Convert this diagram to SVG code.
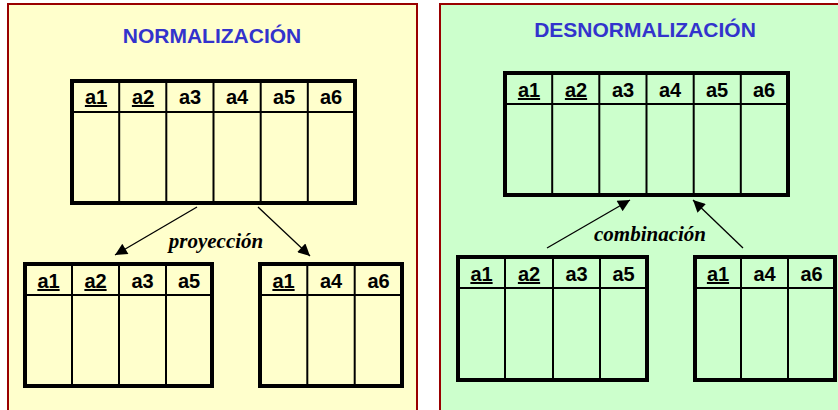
<svg xmlns="http://www.w3.org/2000/svg" width="838" height="410" viewBox="0 0 838 410">
<defs>
<style>
.panel{stroke:#990000;stroke-width:2}
.outer{fill:none;stroke:#000;stroke-width:4}
.inner{stroke:#000;stroke-width:2}
.title{font-family:"Liberation Sans",Arial,sans-serif;font-weight:bold;font-size:21px;fill:#3333CC;text-anchor:middle}
.h{font-family:"Liberation Sans",Arial,sans-serif;font-weight:bold;font-size:20px;fill:#000;text-anchor:middle}
.k{text-decoration:underline}
.lbl{font-family:"Liberation Serif","Times New Roman",serif;font-weight:bold;font-style:italic;font-size:21px;fill:#000;text-anchor:middle}
.arr{stroke:#000;stroke-width:1.3;fill:none;marker-end:url(#ah)}
</style>
<marker id="ah" viewBox="0 0 10 10" refX="10" refY="5" markerWidth="13" markerHeight="12" markerUnits="userSpaceOnUse" orient="auto">
<path d="M0,0 L10,5 L0,10 z" fill="#000"/>
</marker>
</defs>
<rect width="838" height="410" fill="#ffffff"/>
<g id="panel-norm">
<rect class="panel" x="8" y="4" width="409" height="420" fill="#FFFFCC"/>
<text class="title" x="212" y="43">NORMALIZACIÓN</text>
</g>
<g id="panel-desnorm">
<rect class="panel" x="440" y="4" width="410" height="420" fill="#CCFFCC"/>
<text class="title" x="645" y="37">DESNORMALIZACIÓN</text>
</g>

<g id="t-norm-top">
<rect class="outer" x="72" y="81" width="283" height="122"/>
<line class="inner" x1="72" y1="112" x2="355" y2="112"/>
<line class="inner" x1="119.2" y1="81" x2="119.2" y2="203"/>
<line class="inner" x1="166.3" y1="81" x2="166.3" y2="203"/>
<line class="inner" x1="213.5" y1="81" x2="213.5" y2="203"/>
<line class="inner" x1="260.7" y1="81" x2="260.7" y2="203"/>
<line class="inner" x1="307.8" y1="81" x2="307.8" y2="203"/>
<text class="h k" x="96" y="104">a1</text>
<text class="h k" x="143" y="104">a2</text>
<text class="h" x="190" y="104">a3</text>
<text class="h" x="237" y="104">a4</text>
<text class="h" x="284" y="104">a5</text>
<text class="h" x="331" y="104">a6</text>
</g>

<g id="t-norm-left">
<rect class="outer" x="25" y="264" width="187" height="122"/>
<line class="inner" x1="25" y1="295" x2="212" y2="295"/>
<line class="inner" x1="72" y1="264" x2="72" y2="386"/>
<line class="inner" x1="119" y1="264" x2="119" y2="386"/>
<line class="inner" x1="166" y1="264" x2="166" y2="386"/>
<text class="h k" x="48.5" y="288">a1</text>
<text class="h k" x="95.5" y="288">a2</text>
<text class="h" x="142.5" y="288">a3</text>
<text class="h" x="189" y="288">a5</text>
</g>

<g id="t-norm-right">
<rect class="outer" x="260" y="264" width="142" height="122"/>
<line class="inner" x1="260" y1="295" x2="402" y2="295"/>
<line class="inner" x1="307.3" y1="264" x2="307.3" y2="386"/>
<line class="inner" x1="354.7" y1="264" x2="354.7" y2="386"/>
<text class="h k" x="283.5" y="288">a1</text>
<text class="h" x="331" y="288">a4</text>
<text class="h" x="378.5" y="288">a6</text>
</g>

<g id="t-desn-top">
<rect class="outer" x="505" y="73" width="283" height="122"/>
<line class="inner" x1="505" y1="104" x2="788" y2="104"/>
<line class="inner" x1="552.2" y1="73" x2="552.2" y2="195"/>
<line class="inner" x1="599.3" y1="73" x2="599.3" y2="195"/>
<line class="inner" x1="646.5" y1="73" x2="646.5" y2="195"/>
<line class="inner" x1="693.7" y1="73" x2="693.7" y2="195"/>
<line class="inner" x1="740.8" y1="73" x2="740.8" y2="195"/>
<text class="h k" x="529" y="97">a1</text>
<text class="h k" x="576" y="97">a2</text>
<text class="h" x="623" y="97">a3</text>
<text class="h" x="670" y="97">a4</text>
<text class="h" x="717" y="97">a5</text>
<text class="h" x="764" y="97">a6</text>
</g>

<g id="t-desn-left">
<rect class="outer" x="458" y="257" width="189" height="123"/>
<line class="inner" x1="458" y1="288" x2="647" y2="288"/>
<line class="inner" x1="505" y1="257" x2="505" y2="380"/>
<line class="inner" x1="553" y1="257" x2="553" y2="380"/>
<line class="inner" x1="600" y1="257" x2="600" y2="380"/>
<text class="h k" x="481.5" y="281">a1</text>
<text class="h k" x="529" y="281">a2</text>
<text class="h" x="576.5" y="281">a3</text>
<text class="h" x="623.5" y="281">a5</text>
</g>

<g id="t-desn-right">
<rect class="outer" x="695" y="257" width="140" height="123"/>
<line class="inner" x1="695" y1="288" x2="835" y2="288"/>
<line class="inner" x1="741" y1="257" x2="741" y2="380"/>
<line class="inner" x1="788" y1="257" x2="788" y2="380"/>
<text class="h k" x="718" y="281">a1</text>
<text class="h" x="764.5" y="281">a4</text>
<text class="h" x="811.5" y="281">a6</text>
</g>

<g id="connectors">
<line class="arr" x1="197" y1="207" x2="115" y2="255"/>
<line class="arr" x1="258" y1="207" x2="310" y2="256"/>
<line class="arr" x1="547" y1="248" x2="630" y2="200"/>
<line class="arr" x1="743" y1="248" x2="693" y2="200"/>
<text class="lbl" x="216" y="248">proyección</text>
<text class="lbl" x="650" y="241">combinación</text>
</g>
</svg>
